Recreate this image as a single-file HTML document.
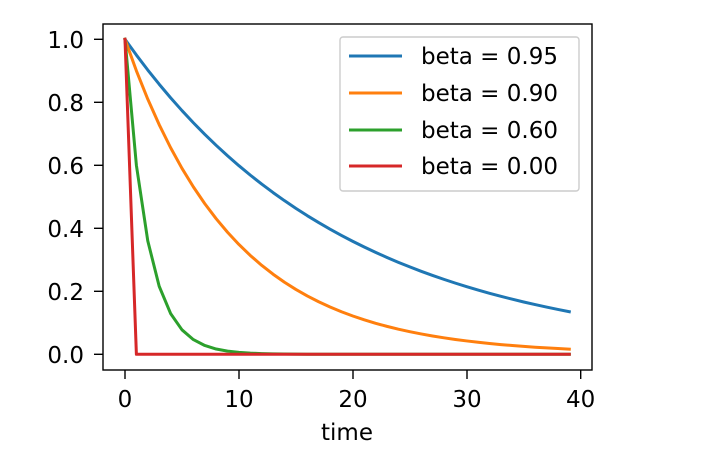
<!DOCTYPE html>
<html><head><meta charset="utf-8"><style>
body{margin:0;background:#fff;}
svg{display:block;font-family:"DejaVu Sans","Liberation Sans",sans-serif;}
</style></head><body>
<svg id="s" width="721" height="467" viewBox="0 0 721 467" xmlns="http://www.w3.org/2000/svg">
<rect width="721" height="467" fill="#fff"/>
<g id="lines" fill="none" stroke-width="3" stroke-linejoin="round" stroke-linecap="square"></g>
<rect x="103" y="24" width="489" height="346" fill="none" stroke="#000" stroke-width="1.4"/>
<g stroke="#000" stroke-width="1.4">
<line x1="125" y1="370" x2="125" y2="379"/><line x1="239" y1="370" x2="239" y2="379"/><line x1="353" y1="370" x2="353" y2="379"/><line x1="467" y1="370" x2="467" y2="379"/><line x1="580.7" y1="370" x2="580.7" y2="379"/>
<line x1="94" y1="39.3" x2="103" y2="39.3"/><line x1="94" y1="102.3" x2="103" y2="102.3"/><line x1="94" y1="165.3" x2="103" y2="165.3"/><line x1="94" y1="228.3" x2="103" y2="228.3"/><line x1="94" y1="291.3" x2="103" y2="291.3"/><line x1="94" y1="354.3" x2="103" y2="354.3"/>
</g>
<g font-size="23" fill="#000" text-anchor="middle">
<text x="125" y="407">0</text><text x="239" y="407">10</text><text x="353" y="407">20</text><text x="467" y="407">30</text><text x="580.7" y="407">40</text>
<text x="347" y="440">time</text>
</g>
<g font-size="23" fill="#000" text-anchor="end">
<text x="84" y="48">1.0</text><text x="84" y="111">0.8</text><text x="84" y="174">0.6</text><text x="84" y="237">0.4</text><text x="84" y="300">0.2</text><text x="84" y="363">0.0</text>
</g>
<rect x="340" y="37" width="239" height="154" rx="3" fill="#fff" fill-opacity="0.8" stroke="#ccc" stroke-width="1.4"/>
<g stroke-width="3">
<line x1="349" y1="56" x2="402" y2="56" stroke="#1f77b4"/>
<line x1="349" y1="93" x2="402" y2="93" stroke="#ff7f0e"/>
<line x1="349" y1="130" x2="402" y2="130" stroke="#2ca02c"/>
<line x1="349" y1="166" x2="402" y2="166" stroke="#d62728"/>
</g>
<g font-size="23" fill="#000">
<text x="421" y="64">beta = 0.95</text>
<text x="421" y="101">beta = 0.90</text>
<text x="421" y="138">beta = 0.60</text>
<text x="421" y="174">beta = 0.00</text>
</g>
</svg>
<script>
var g=document.getElementById('lines');
[[0.95,'#1f77b4'],[0.9,'#ff7f0e'],[0.6,'#2ca02c'],[0,'#d62728']].forEach(function(b){
 var d='';for(var t=0;t<40;t++){var y=Math.pow(b[0],t);var px=125+t*11.392,py=354.3-y*315;d+=(t?'L':'M')+px.toFixed(2)+' '+py.toFixed(2);}
 var p=document.createElementNS('http://www.w3.org/2000/svg','path');p.setAttribute('d',d);p.setAttribute('stroke',b[1]);g.appendChild(p);
});
</script>
</body></html>
